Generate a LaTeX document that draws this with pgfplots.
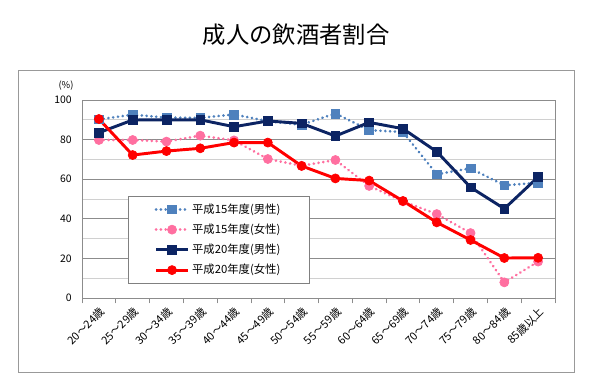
\documentclass[border=0pt]{standalone}
\usepackage{fontspec}
\setmainfont{Noto Sans CJK JP}
\usepackage{pgfplots}
\pgfplotsset{compat=1.18}
\definecolor{cMa}{HTML}{4F81BD}
\definecolor{cMb}{HTML}{0C2463}
\definecolor{cFa}{HTML}{FF6FA0}
\definecolor{cFb}{HTML}{FF0000}
\definecolor{gridmaj}{HTML}{8C8C8C}
\definecolor{gridmin}{HTML}{D0D0D0}
\begin{document}
\begin{tikzpicture}
\path[use as bounding box] (0pt,0pt) rectangle (444pt,290.25pt);
\draw[gray!80, line width=0.75pt] (13.5pt,11.25pt) rectangle (430.5pt,237.75pt);
\node[font=\fontsize{17.5}{20}\selectfont] at (222pt,264pt) {成人の飲酒者割合};
\node[font=\fontsize{7}{8}\selectfont] at (49.5pt,225.75pt) {(\%)};
\begin{axis}[
  at={(61.5pt,66.75pt)}, anchor=south west,
  scale only axis, width=354.75pt, height=148.5pt,
  xmin=0.5, xmax=14.5, ymin=0, ymax=100,
  clip=false,
  xtick={1,...,14},
  xticklabels={20～24歳,25～29歳,30～34歳,35～39歳,40～44歳,45～49歳,50～54歳,55～59歳,60～64歳,65～69歳,70～74歳,75～79歳,80～84歳,85歳以上},
  minor xtick={0.5,1.5,...,14.5},
  major x tick style={draw=none},
  minor x tick style={gridmaj, line width=0.6pt},
  minor tick length=4pt,
  tick align=outside,
  xtick pos=bottom, ytick pos=left,
  ytick={0,20,...,100}, minor ytick={10,30,...,90},
  major y tick style={draw=none}, minor y tick style={draw=none},
  ymajorgrids, yminorgrids,
  major grid style={gridmaj, line width=0.6pt},
  minor grid style={gridmin, line width=0.6pt},
  axis line style={gridmaj, line width=0.75pt},
  xticklabel style={rotate=45, anchor=north east, font=\fontsize{8.3}{9}\selectfont, inner sep=1pt},
  yticklabel style={font=\fontsize{7.8}{9}\selectfont},
  /pgf/number format/assume math mode=true,
  legend cell align=left,
  legend style={at={(0.0966,0.515)}, anchor=north west, draw=gray, fill=white,
    font=\fontsize{8.5}{10}\selectfont, row sep=2.5pt, inner xsep=20pt, inner ysep=3.5pt},
  legend image code/.code={\draw[mark repeat=2,mark phase=2] plot coordinates {(0cm,0cm) (0.42cm,0cm) (0.84cm,0cm)};},
]
\addplot[cMa, line width=2.2pt, line cap=round, dash pattern=on 0.01pt off 3.6pt, mark=square*, mark size=3.3pt, mark options={solid, fill=cMa, draw=cMa, line width=0.5pt}]
  coordinates {(1,90.2) (2,92.6) (3,91.1) (4,91) (5,92.7) (6,89.3) (7,87.5) (8,93.2) (9,84.8) (10,83.8) (11,62.5) (12,65.5) (13,56.9) (14,58.2)};
\addlegendentry{平成15年度(男性)}
\addplot[cFa, line width=2.2pt, line cap=round, dash pattern=on 0.01pt off 3.6pt, mark=*, mark size=3.4pt, mark options={solid, fill=cFa, draw=cFa, line width=0.5pt}]
  coordinates {(1,79.8) (2,79.8) (3,79) (4,82) (5,79.6) (6,70.2) (7,66.8) (8,69.7) (9,56.6) (10,48.8) (11,42.4) (12,32.8) (13,7.9) (14,18.4)};
\addlegendentry{平成15年度(女性)}
\addplot[cMb, line width=2.2pt, mark=square*, mark size=3.3pt, mark options={solid, fill=cMb, draw=cMb, line width=0.5pt}]
  coordinates {(1,83.5) (2,89.9) (3,90) (4,90) (5,86.5) (6,89.4) (7,88.2) (8,81.8) (9,88.7) (10,85.5) (11,73.9) (12,55.9) (13,45.1) (14,61.1)};
\addlegendentry{平成20年度(男性)}
\addplot[cFb, line width=2.2pt, mark=*, mark size=3.4pt, mark options={solid, fill=cFb, draw=cFb, line width=0.5pt}]
  coordinates {(1,90.4) (2,72.2) (3,74.2) (4,75.6) (5,78.5) (6,78.5) (7,66.7) (8,60.4) (9,59.3) (10,49) (11,38.2) (12,29.3) (13,20.2) (14,20.3)};
\addlegendentry{平成20年度(女性)}
\end{axis}
\end{tikzpicture}
\end{document}
